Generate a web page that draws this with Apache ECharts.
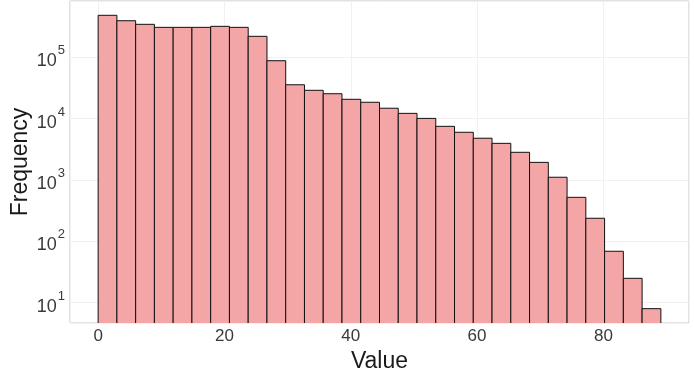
<!DOCTYPE html>
<html>
<head>
<meta charset="utf-8">
<script src="https://cdn.jsdelivr.net/npm/echarts@6/dist/echarts.min.js"></script>
<style>
html,body{margin:0;padding:0;background:#fff;}
#chart{width:694px;height:375px;}
</style>
</head>
<body>
<div id="chart"></div>
<script>
// Histogram bin edges (31 edges -> 30 bins)
const binEdges = [0, 2.97, 5.94, 8.91, 11.88, 14.85, 17.82, 20.79, 23.76, 26.73,
  29.70, 32.67, 35.64, 38.61, 41.58, 44.55, 47.52, 50.49, 53.46, 56.43,
  59.40, 62.37, 65.34, 68.31, 71.28, 74.25, 77.22, 80.19, 83.16, 86.13, 89.10];
// Frequencies per bin
const counts = [484000, 395000, 345000, 308000, 308000, 308000, 320000, 308000, 220000, 88000,
  35700, 29000, 25500, 20700, 18500, 14800, 12200, 10100, 7500, 6000,
  4800, 3960, 2830, 1940, 1110, 522, 238, 69, 25, 8];
const xTicks = [0, 20, 40, 60, 80];
const yTickExponents = [1, 2, 3, 4, 5];

const xMin = -4.455, xMax = 93.555;
const yMin = 4.67, yMax = 828000;

const data = counts.map((c, i) => [binEdges[i], binEdges[i + 1], c]);

const chart = echarts.init(document.getElementById('chart'), null, {renderer: 'canvas'});
const font = '"Liberation Sans", Arial, sans-serif';

function isPow10(v) {
  const l = Math.log10(v);
  return Math.abs(l - Math.round(l)) < 1e-6 && yTickExponents.indexOf(Math.round(l)) >= 0;
}

chart.setOption({
  animation: false,
  backgroundColor: '#ffffff',
  grid: {
    left: 70, right: 5, top: 1, bottom: 52,
    show: true, borderColor: '#c4c4c4', borderWidth: 1, backgroundColor: 'transparent',
    containLabel: false, outerBoundsMode: 'none'
  },
  xAxis: {
    type: 'value', min: xMin, max: xMax,
    name: 'Value', nameLocation: 'middle', nameGap: 25,
    nameTextStyle: {fontFamily: font, fontSize: 23, color: '#1a1a1a'},
    axisLine: {show: false}, axisTick: {show: false},
    splitLine: {show: true, lineStyle: {color: '#f1f1f1', width: 1}},
    axisLabel: {
      fontFamily: font, fontSize: 17, color: '#3a3a3a', margin: 5,
      showMinLabel: false, showMaxLabel: false,
      formatter: v => xTicks.indexOf(Math.round(v * 1000) / 1000) >= 0 ? String(Math.round(v)) : ''
    }
  },
  yAxis: {
    type: 'log', logBase: 10, min: yMin, max: yMax,
    name: 'Frequency', nameLocation: 'middle', nameGap: 38, nameMoveOverlap: false,
    nameTextStyle: {fontFamily: font, fontSize: 23, color: '#1a1a1a'},
    axisLine: {show: false}, axisTick: {show: false},
    splitLine: {show: true, lineStyle: {color: '#f1f1f1', width: 1}},
    axisLabel: {
      margin: 5,
      showMinLabel: false, showMaxLabel: false,
      formatter: v => isPow10(v) ? '{b|10}{s|' + Math.round(Math.log10(v)) + '}' : '',
      rich: {
        b: {fontFamily: font, fontSize: 18, color: '#3a3a3a', verticalAlign: 'bottom', padding: [8, 0, 0, 0]},
        s: {fontFamily: font, fontSize: 13, color: '#3a3a3a', verticalAlign: 'top', padding: [0, 0, 0, 1]}
      }
    }
  },
  series: [{
    type: 'custom',
    clip: true,
    encode: {x: [0, 1], y: 2},
    data: data,
    renderItem: function (params, api) {
      const x0 = api.value(0), x1 = api.value(1), c = api.value(2);
      const pTop = api.coord([x0, c]);
      const pBot = api.coord([x1, 1]);
      return {
        type: 'rect',
        shape: {x: pTop[0], y: pTop[1], width: pBot[0] - pTop[0], height: pBot[1] - pTop[1]},
        style: {fill: '#F4A6A7', stroke: '#111111', lineWidth: 1}
      };
    }
  }]
});
</script>
</body>
</html>
